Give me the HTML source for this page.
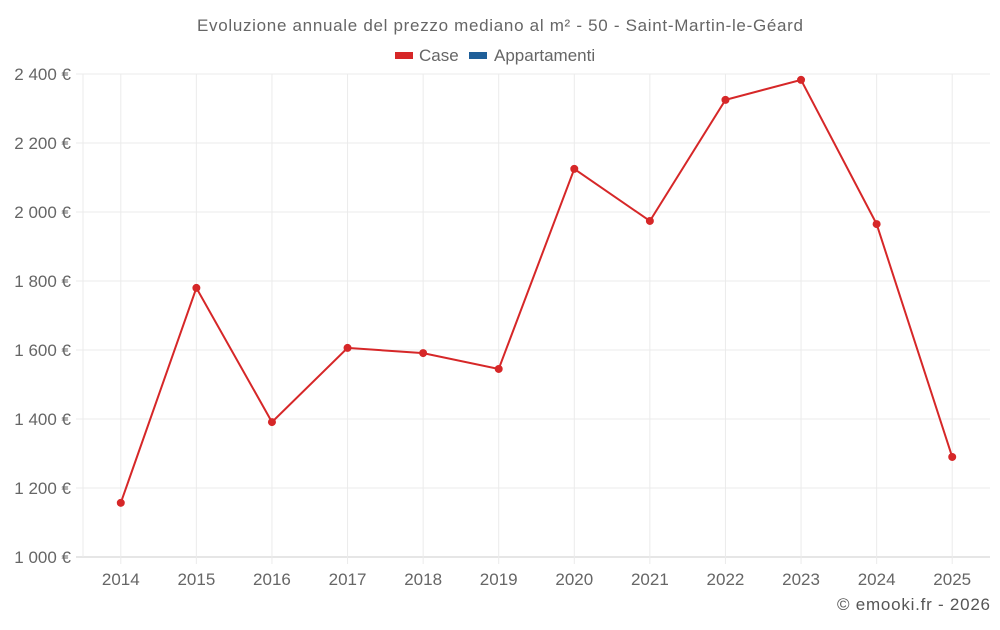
<!DOCTYPE html>
<html><head><meta charset="utf-8"><style>
body{margin:0;background:#fff;font-family:"Liberation Sans",sans-serif;}
svg text{font-family:"Liberation Sans",sans-serif;}
</style></head><body>
<svg id="chart" width="1000" height="625">
<text x="197" y="31" textLength="606" lengthAdjust="spacing" font-size="17" fill="#666">Evoluzione annuale del prezzo mediano al m² - 50 - Saint-Martin-le-Géard</text>
<g>
<g><rect x="395" y="52" width="18" height="7" fill="#d62728"/><text x="419" y="61" font-size="17" fill="#666">Case</text></g>
<g><rect x="469" y="52" width="18" height="7" fill="#1f5f99"/><text x="494" y="61" font-size="17" fill="#666">Appartamenti</text></g>
</g>
<g id="grid"></g>
<g id="axes"></g>
<g id="series"></g>
<text x="837" y="610" textLength="153" lengthAdjust="spacing" font-size="17" fill="#555">© emooki.fr - 2026</text>
</svg>
<script>
const years = ["2014","2015","2016","2017","2018","2019","2020","2021","2022","2023","2024","2025"];
const caseValues = [1157,1780,1391,1606,1591,1545,2125,1974,2325,2383,1965,1290];
const yTicks = [1000,1200,1400,1600,1800,2000,2200,2400];
const yTickLabels = ["1 000 €","1 200 €","1 400 €","1 600 €","1 800 €","2 000 €","2 200 €","2 400 €"];

const NS="http://www.w3.org/2000/svg";
const L=83,R=990,T=74,B=557,yMin=1000,yMax=2400;
const band=(R-L)/years.length;
const x=i=>L+band*(i+0.5);
const y=v=>B-(v-yMin)/(yMax-yMin)*(B-T);
function mk(tag,attrs,parent){const e=document.createElementNS(NS,tag);for(const k in attrs)e.setAttribute(k,attrs[k]);parent.appendChild(e);return e;}
const grid=document.getElementById('grid'),axes=document.getElementById('axes'),ser=document.getElementById('series');
yTicks.forEach((v,i)=>{
  const ln=mk('line',{x1:L-7,x2:R,y1:y(v),y2:y(v),stroke:i===0?'#ccc':'#ebebeb','stroke-width':1},grid);
  
  
  const t=mk('text',{x:71,y:y(v)+6,'text-anchor':'end','font-size':17,fill:'#666'},axes);
  t.textContent=yTickLabels[i];
  
  
});
const l0=mk('line',{x1:L,x2:L,y1:T,y2:B,stroke:'#ebebeb'},grid);


years.forEach((yr,i)=>{
  const g=mk('line',{x1:x(i),x2:x(i),y1:T,y2:B+7,stroke:'#ebebeb'},grid);
  
  
  const t=mk('text',{x:x(i),y:585,'text-anchor':'middle','font-size':17,fill:'#666'},axes);
  t.textContent=yr;
  
  
});
const pts=caseValues.map((v,i)=>x(i)+','+y(v)).join(' ');
const pl=mk('polyline',{points:pts,fill:'none',stroke:'#d62728','stroke-width':2},ser);


caseValues.forEach((v,i)=>{
  const c=mk('circle',{cx:x(i),cy:y(v),r:4,fill:'#d62728'},ser);
  
  
});
</script>
</body></html>
